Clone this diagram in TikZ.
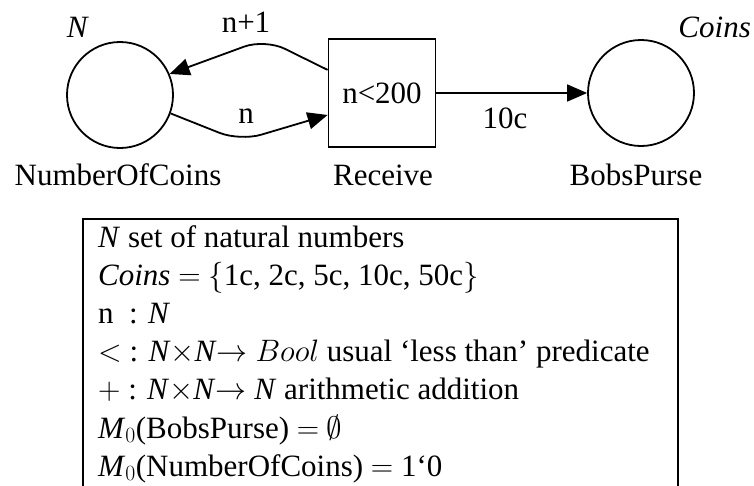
\RequirePackage{fix-cm}
\documentclass[tikz,border=0pt]{standalone}
\usepackage{fontspec}
\setmainfont{Liberation Serif}
\usetikzlibrary{arrows.meta}

\newcommand{\petrifont}{\fontsize{31}{38.2}\selectfont}

\begin{document}
\begin{tikzpicture}
            [x=1pt, y=-1pt,
            place/.style={circle, draw, line width=1.8pt, minimum size=106pt, inner sep=0pt},
            trans/.style={rectangle, draw, line width=1.8pt, minimum width=107pt, minimum height=108pt, inner sep=0pt, font=\petrifont},
            arc/.style={line width=1.8pt, -{Triangle[length=20pt, width=17pt]}},
            lbl/.style={inner sep=0pt, font=\petrifont},
            frame/.style={line width=1.8pt},
            decl/.style={align=left, inner sep=0pt, font=\petrifont}]

            \useasboundingbox (0,0) rectangle (754,485);

            \node[place] (noc) at (120,95) {};
            \node[trans] (recv) at (382,93) {n<200};
            \node[place] (purse) at (641,93) {};

            \node[lbl, anchor=base] (nocname) at (118,185) {NumberOfCoins};
            \node[lbl, anchor=base] (recvname) at (383,185) {Receive};
            \node[lbl, anchor=base] (pursename) at (636,185) {BobsPurse};
            \node[lbl, anchor=base] (noctype) at (78,37) {\textit{N}};
            \node[lbl, anchor=base east] (pursetype) at (751,37) {\textit{Coins}};

            \coordinate (top) at (265,39);
            \coordinate (bottom) at (240,141);

            \draw[arc, rounded corners=22pt] (recv.157) -- (top) -- (noc.23);
            \draw[arc, rounded corners=22pt] (noc.-20) -- (bottom) -- (recv.202);
            \draw[arc] (recv.east) -- (purse.west);

            \node[lbl, anchor=base] (plusone) at (246,32) {n+1};
            \node[lbl, anchor=base] (nlbl) at (246,123) {n};
            \node[lbl, anchor=base] (coin) at (505,128) {10c};

            % declarations
            \draw[frame] (83,219) rectangle (678,520);
            \node[decl, anchor=north west] (decl) at (98,225)
                {\textit{N} set of natural numbers\\
                 \textit{Coins} $=$ $\{$1c, 2c, 5c, 10c, 50c$\}$\\
                 n\ \ : \textit{N}\\
                 $<$ : \textit{N}$\times$\textit{N}$\rightarrow$ $Bool$ usual ‘less than’ predicate\\
                 $+$ : \textit{N}$\times$\textit{N}$\rightarrow$ \textit{N} arithmetic addition\\
                 \textit{M}$_0$(BobsPurse) $=$ $\emptyset$\\
                 \textit{M}$_0$(NumberOfCoins) $=$ 1‘0};

        \end{tikzpicture}
\end{document}
